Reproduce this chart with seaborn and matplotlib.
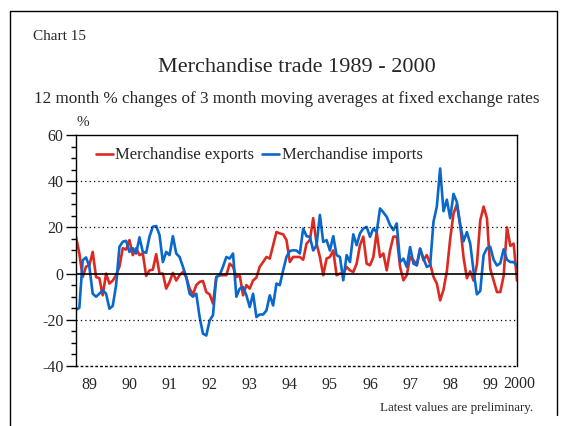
import pandas as pd
import matplotlib.pyplot as plt
import seaborn as sns
from matplotlib.lines import Line2D
from matplotlib.ticker import MultipleLocator

# monthly values, Mar 1989 - Mar 2000
months = pd.date_range("1989-03-01", periods=133, freq="MS")

exports = [16, 8.7, -1.5, 3, 3.6, 9.4, -1.5, -2, -9.4, 0,
           -4.3, -3, -0.7, 3, 11, 10.4, 14.5, 8, 11, 8,
           8.7, -1, 1.4, 1.7, 8.4, 0, 0, -6.5, -3.6, 0.3,
           -3, -0.7, 0.7, -1.5, -6.5, -9, -5, -3.6, -3.2, -8,
           -9, -13, -1.5, -0.7, -0.7, -0.7, 4.3, 3, -1.5, -0.7,
           -9.4, -5, -6.5, -3, -1.7, 3, 5, 7.2, 6.5, 12.3,
           18, 17.4, 17, 14.5, 5, 7.2, 7.2, 7.2, 6, 13,
           14.5, 24, 13, 7.2, -0.7, 6.5, 7.2, 10, -0.7, 0,
           0, 2.9, 1.4, 0.7, 4.3, 12.3, 16, 4.3, 3.6, 7.2,
           18, 7.2, 8.7, 1.4, 10, 16, 16, 2.9, -2.9, -0.7,
           7.2, 5.8, 3.6, 10.8, 5.8, 8, 4.3, -1.4, -4.3, -11.6,
           -7, 1, 15, 26, 30, 21, 7, -2, 1, -3,
           4, 23, 29, 24, 2, -3, -8, -8, -1, 20,
           12, 13, -3]

imports = [-15.7, -14.8, 5.8, 7, 3, -8.7, -10, -8.7, -7.2, -8.7,
           -15.2, -14, -5, 11.6, 13.8, 14.2, 9.4, 11, 8.7, 15.7,
           9.4, 9, 16, 20.3, 20.6, 16.7, 5, 9.4, 8, 16.2,
           8.7, 7.2, 3, -1.5, -8.7, -10, -8.7, -18.8, -26, -26.8,
           -20.3, -18, -1.5, -0.7, 3, 7.2, 6.5, 8.7, -10, -6.5,
           -5.8, -9.4, -14.5, -8.7, -18.8, -17.7, -17.7, -16, -9.4, -13.8,
           -4.3, -5, 1.4, 7.2, 9.8, 10.1, 10, 8.7, 19.5, 16.2,
           15.9, 10, 12.3, 25.4, 13.7, 14.5, 10, 16.2, 8, 7.2,
           -2.9, 8, 5, 17, 12.3, 17.4, 19.5, 20.2, 15.9, 19.5,
           18, 28.2, 26.5, 24.6, 21, 18.8, 21.7, 5, 6.5, 2.9,
           11.5, 4.3, 3.6, 10.8, 6.5, 2.9, 3.6, 22.4, 29, 45.5,
           27, 32, 24, 34.5, 31, 21, 14, 18, 13, 1,
           -9, -7.5, 8, 11, 11.6, 6, 3.5, 4.5, 10.5, 6,
           5, 5, 3.2]

year_labels = ["89", "90", "91", "92", "93", "94", "95", "96", "97", "98", "99"]

# months counted from Jan 1989
t = (months.year - 1989) * 12 + months.month - 1
df = pd.DataFrame({"t": t,
                   "Merchandise exports": exports,
                   "Merchandise imports": imports})
long_df = df.melt(id_vars="t", var_name="series", value_name="pct")

sns.set_theme(style="white")
plt.rcParams["font.family"] = ["Liberation Serif", "DejaVu Serif"]
plt.rcParams["axes.unicode_minus"] = False

fig = plt.figure(figsize=(5.64, 4.26), dpi=100)
ax = fig.add_axes([76 / 564, 1 - 366 / 426, 441 / 564, 231 / 426])

sns.lineplot(data=long_df, x="t", y="pct", hue="series",
             palette=["#dc2a22", "#0a68cc"], linewidth=1.9, ax=ax)

ax.set_xlim(2, 134)
ax.set_ylim(-40, 60)
ax.set_xlabel("")
ax.set_ylabel("")

# y axis ticks
ax.yaxis.set_major_locator(MultipleLocator(20))
ax.yaxis.set_minor_locator(MultipleLocator(5))
ax.tick_params(axis="y", which="major", direction="out", length=7, width=1,
               color="black", labelsize=11.5, pad=2, left=True)
ax.tick_params(axis="y", which="minor", direction="out", length=3.5, width=1,
               color="black", left=True)

# year labels at mid-year, no tick marks
ax.set_xticks([6 + 12 * i for i in range(len(year_labels))])
ax.set_xticklabels(year_labels)
ax.tick_params(axis="x", length=0, labelsize=11.5, pad=8)
ax.text(134.6, -48, "2000", ha="center", va="center", fontsize=11.5, clip_on=False)

# dotted grid and zero line
for v in [-20, 20, 40]:
    ax.axhline(v, color="black", linestyle=(0, (1, 2.5)), linewidth=0.9)
ax.axhline(0, color="black", linewidth=1.2)

for side in ["left", "right", "top", "bottom"]:
    ax.spines[side].set_color("black")
    ax.spines[side].set_linewidth(1)
ax.spines["bottom"].set_linestyle((0, (1, 2.5)))

handles, labels = ax.get_legend_handles_labels()
ax.legend(handles, labels, ncol=2, loc="upper left", bbox_to_anchor=(0.03, 0.975),
          frameon=False, fontsize=12, handlelength=1.0, handletextpad=0.15,
          columnspacing=0.5, borderaxespad=0)

# texts
fig.text(33 / 564, 1 - 37 / 426, "Chart 15", ha="left", va="center", fontsize=11)
fig.text(297 / 564, 1 - 68 / 426, "Merchandise trade 1989 - 2000",
         ha="center", va="center", fontsize=16)
fig.text(287 / 564, 1 - 99 / 426,
         "12 month % changes of 3 month moving averages at fixed exchange rates",
         ha="center", va="center", fontsize=12.3)
fig.text(83 / 564, 1 - 122 / 426, "%", ha="center", va="center", fontsize=11)
fig.text(533 / 564, 1 - 408 / 426, "Latest values are preliminary.",
         ha="right", va="center", fontsize=9.4)

# page frame
fig.add_artist(Line2D([10 / 564, 10 / 564], [0, 1 - 11 / 426],
                      transform=fig.transFigure, color="black", linewidth=1))
fig.add_artist(Line2D([10 / 564, 557 / 564], [1 - 11 / 426, 1 - 11 / 426],
                      transform=fig.transFigure, color="black", linewidth=1))
fig.add_artist(Line2D([557 / 564, 557 / 564], [1 - 11 / 426, 1 - 415 / 426],
                      transform=fig.transFigure, color="black", linewidth=1))

fig.savefig("out.png", dpi=100)
